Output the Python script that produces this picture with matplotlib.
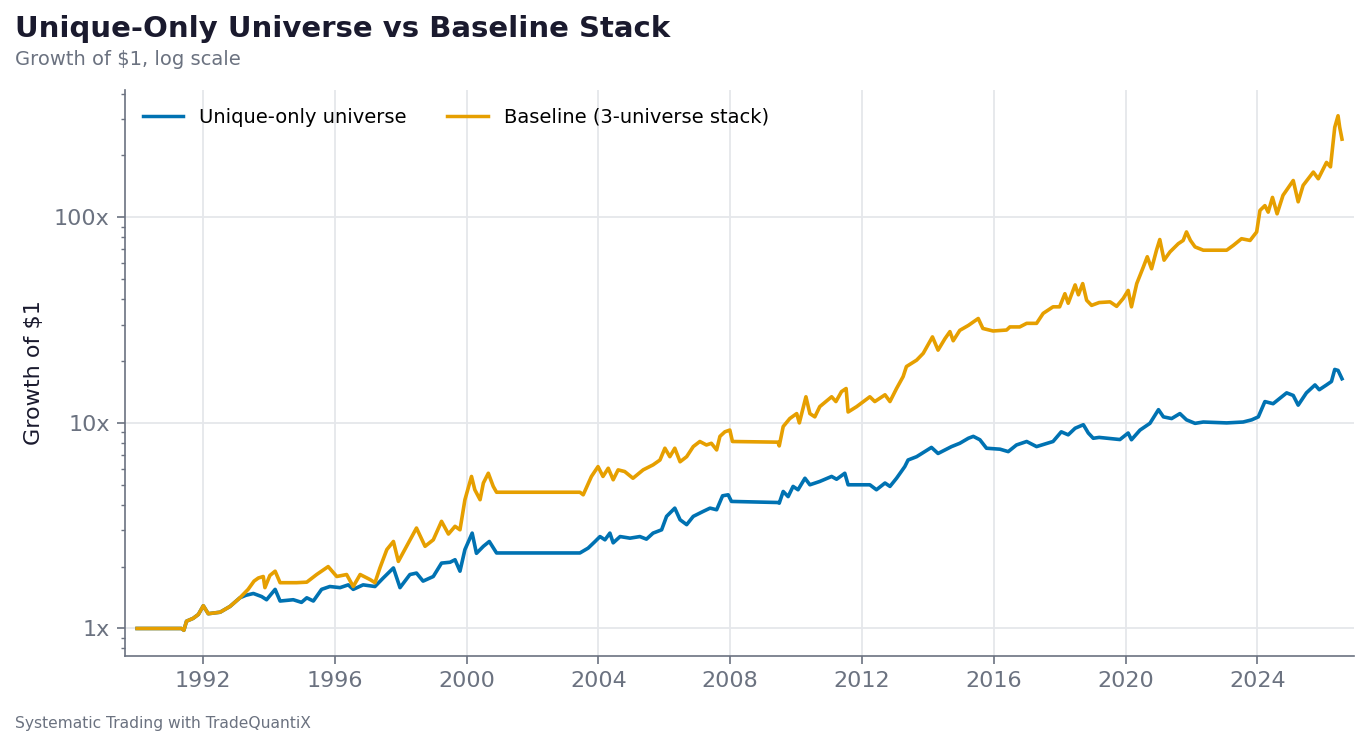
import matplotlib
matplotlib.use("Agg")
import matplotlib.pyplot as plt
from matplotlib.ticker import FuncFormatter, MultipleLocator, NullFormatter, LogLocator

# ---------------- data ----------------
base_years = [1990.0, 1991.35, 1991.42, 1991.5, 1991.7, 1991.86, 1992.01, 1992.16, 1992.52, 1992.82,
              1993.12, 1993.37, 1993.55, 1993.68, 1993.83, 1993.88, 1994.03, 1994.19, 1994.34, 1994.84,
              1995.15, 1995.45, 1995.8, 1996.06, 1996.36, 1996.56, 1996.77, 1997.07, 1997.22, 1997.37,
              1997.58, 1997.78, 1997.93, 1998.18, 1998.48, 1998.74, 1998.99, 1999.24, 1999.45, 1999.65,
              1999.8, 1999.95, 2000.15, 2000.25, 2000.41, 2000.51, 2000.66, 2000.81, 2000.91, 2003.44,
              2003.54, 2003.79, 2003.99, 2004.14, 2004.3, 2004.45, 2004.6, 2004.8, 2005.05, 2005.36,
              2005.66, 2005.87, 2006.02, 2006.17, 2006.32, 2006.48, 2006.68, 2006.88, 2007.08, 2007.28,
              2007.43, 2007.59, 2007.69, 2007.84, 2007.99, 2008.07, 2009.45, 2009.49, 2009.61, 2009.81,
              2010.02, 2010.1, 2010.3, 2010.42, 2010.57, 2010.72, 2011.08, 2011.21, 2011.38, 2011.52,
              2011.58, 2011.84, 2012.24, 2012.39, 2012.7, 2012.85, 2013.05, 2013.25, 2013.35, 2013.51,
              2013.66, 2013.86, 2014.14, 2014.31, 2014.52, 2014.67, 2014.77, 2014.97, 2015.23, 2015.53,
              2015.67, 2015.98, 2016.39, 2016.49, 2016.79, 2017.0, 2017.3, 2017.5, 2017.8, 2018.0,
              2018.16, 2018.26, 2018.47, 2018.57, 2018.7, 2018.82, 2018.97, 2019.2, 2019.53, 2019.73,
              2019.93, 2020.08, 2020.18, 2020.34, 2020.54, 2020.66, 2020.79, 2020.94, 2021.04, 2021.17,
              2021.35, 2021.6, 2021.75, 2021.85, 2021.97, 2022.11, 2022.36, 2023.07, 2023.27, 2023.52,
              2023.78, 2023.98, 2024.08, 2024.23, 2024.33, 2024.46, 2024.6, 2024.78, 2024.99, 2025.09,
              2025.24, 2025.39, 2025.7, 2025.85, 2026.1, 2026.22, 2026.35, 2026.45, 2026.5, 2026.57]
base_vals = [1.0, 1.0, 0.98, 1.085, 1.12, 1.17, 1.29, 1.18, 1.2, 1.28,
             1.41, 1.55, 1.70, 1.76, 1.79, 1.58, 1.81, 1.90, 1.67, 1.67,
             1.68, 1.83, 2.0, 1.79, 1.83, 1.60, 1.83, 1.73, 1.67, 1.97,
             2.42, 2.65, 2.12, 2.51, 3.08, 2.51, 2.70, 3.32, 2.88, 3.14,
             3.02, 4.23, 5.49, 4.73, 4.23, 5.10, 5.69, 4.91, 4.6, 4.6,
             4.47, 5.49, 6.13, 5.49, 6.02, 5.29, 5.91, 5.8, 5.38, 5.91,
             6.25, 6.6, 7.53, 6.85, 7.53, 6.47, 6.85, 7.67, 8.12, 7.81,
             7.96, 7.39, 8.6, 9.05, 9.23, 8.12, 8.06, 7.73, 9.6, 10.5,
             11.1, 10.0, 13.4, 11.1, 10.7, 12.0, 13.4, 12.7, 14.2, 14.7,
             11.3, 12.0, 13.4, 12.7, 13.7, 12.7, 14.7, 16.8, 18.8, 19.5,
             20.2, 21.8, 26.2, 22.6, 25.7, 27.8, 25.1, 28.2, 29.8, 32.2,
             28.8, 28.0, 28.3, 29.3, 29.3, 30.5, 30.5, 34.1, 36.7, 36.7,
             42.5, 38.2, 46.9, 42.0, 47.6, 39.5, 37.3, 38.5, 38.8, 36.9,
             40.3, 44.1, 36.7, 47.6, 57.3, 64.3, 56.2, 69.2, 78.0, 61.9,
             67.9, 74.4, 77.2, 84.9, 77.2, 71.8, 69.2, 69.2, 73.0, 78.7,
             77.2, 84.9, 108, 114, 106, 125, 104, 128, 143, 151,
             119, 143, 166, 154, 185, 176, 274, 312, 274, 240]

unique_years = [1990.0, 1991.35, 1991.42, 1991.5, 1991.7, 1991.86, 1992.01, 1992.16, 1992.52, 1992.82,
                1993.12, 1993.3, 1993.53, 1993.78, 1993.93, 1994.19, 1994.34, 1994.74, 1994.99, 1995.15,
                1995.35, 1995.6, 1995.85, 1996.16, 1996.41, 1996.56, 1996.86, 1997.22, 1997.47, 1997.78,
                1997.98, 1998.28, 1998.48, 1998.68, 1998.99, 1999.24, 1999.5, 1999.65, 1999.8, 1999.95,
                2000.17, 2000.3, 2000.51, 2000.69, 2000.91, 2003.44, 2003.69, 2003.9, 2004.05, 2004.2,
                2004.35, 2004.45, 2004.66, 2004.96, 2005.26, 2005.46, 2005.66, 2005.92, 2006.07, 2006.32,
                2006.48, 2006.68, 2006.88, 2007.18, 2007.39, 2007.59, 2007.77, 2007.94, 2008.04, 2009.45,
                2009.49, 2009.61, 2009.76, 2009.91, 2010.06, 2010.27, 2010.42, 2010.72, 2011.08, 2011.23,
                2011.48, 2011.58, 2011.94, 2012.24, 2012.44, 2012.7, 2012.85, 2013.05, 2013.3, 2013.4,
                2013.66, 2014.11, 2014.31, 2014.52, 2014.72, 2014.97, 2015.23, 2015.38, 2015.58, 2015.78,
                2016.19, 2016.44, 2016.69, 2017.0, 2017.3, 2017.8, 2018.05, 2018.26, 2018.47, 2018.72,
                2018.87, 2019.02, 2019.2, 2019.83, 2020.08, 2020.18, 2020.44, 2020.74, 2021.0, 2021.15,
                2021.4, 2021.65, 2021.85, 2022.11, 2022.36, 2023.07, 2023.57, 2023.83, 2024.03, 2024.23,
                2024.48, 2024.69, 2024.89, 2025.09, 2025.24, 2025.49, 2025.75, 2025.88, 2026.1, 2026.25,
                2026.35, 2026.45, 2026.57]
unique_vals = [1.0, 1.0, 0.98, 1.085, 1.12, 1.17, 1.29, 1.18, 1.2, 1.28,
               1.41, 1.45, 1.48, 1.43, 1.38, 1.55, 1.36, 1.38, 1.34, 1.41,
               1.36, 1.55, 1.60, 1.58, 1.63, 1.55, 1.63, 1.60, 1.76, 1.97,
               1.58, 1.83, 1.86, 1.70, 1.79, 2.08, 2.10, 2.16, 1.90, 2.42,
               2.91, 2.32, 2.51, 2.65, 2.33, 2.33, 2.46, 2.65, 2.8, 2.70,
               2.91, 2.61, 2.80, 2.75, 2.80, 2.72, 2.91, 3.02, 3.51, 3.85,
               3.38, 3.2, 3.51, 3.71, 3.85, 3.78, 4.42, 4.47, 4.15, 4.10,
               4.07, 4.64, 4.38, 4.91, 4.73, 5.38, 5.0, 5.19, 5.49, 5.32,
               5.69, 5.0, 5.0, 5.0, 4.73, 5.1, 4.91, 5.38, 6.13, 6.6,
               6.85, 7.6, 7.1, 7.39, 7.67, 7.96, 8.42, 8.6, 8.28, 7.53,
               7.45, 7.25, 7.81, 8.12, 7.67, 8.12, 9.05, 8.75, 9.42, 9.8,
               8.93, 8.42, 8.5, 8.3, 8.93, 8.28, 9.23, 9.95, 11.6, 10.7,
               10.5, 11.1, 10.35, 9.95, 10.1, 10.0, 10.1, 10.35, 10.7, 12.7,
               12.4, 13.2, 14.0, 13.6, 12.2, 14.0, 15.3, 14.5, 15.3, 15.9,
               18.2, 18.0, 16.4]

series_labels = ["Unique-only universe", "Baseline (3-universe stack)"]
title_text = "Unique-Only Universe vs Baseline Stack"
subtitle_text = "Growth of $1, log scale"
ylabel_text = "Growth of $1"
footer_text = "Systematic Trading with TradeQuantiX"

# ---------------- styling ----------------
BLUE = "#0072B2"
ORANGE = "#E69F00"
GRAY = "#6b7280"
GRID = "#e5e7eb"
DARK = "#1a1a2e"

plt.rcParams['font.family'] = ['DejaVu Sans']

fig = plt.figure(figsize=(13.68, 7.47), dpi=100)
ax = fig.add_axes([0.0914, 0.1218, 0.8984, 0.7577])

ax.plot(unique_years, unique_vals, color=BLUE, lw=2.6, label=series_labels[0], zorder=3,
        solid_joinstyle="round")
ax.plot(base_years, base_vals, color=ORANGE, lw=2.6, label=series_labels[1], zorder=4,
        solid_joinstyle="round")

ax.set_yscale("log")
ax.margins(x=0.01, y=0.05)

ax.yaxis.set_major_locator(LogLocator(base=10))
ax.yaxis.set_major_formatter(FuncFormatter(lambda v, p: f"{v:g}x"))
ax.yaxis.set_minor_formatter(NullFormatter())
ax.xaxis.set_major_locator(MultipleLocator(4))
ax.xaxis.set_major_formatter(FuncFormatter(lambda v, p: f"{int(round(v))}"))

ax.grid(True, which="major", color=GRID, lw=1.3, zorder=0)
ax.set_axisbelow(True)
for s in ["top", "right"]:
    ax.spines[s].set_visible(False)
for s in ["left", "bottom"]:
    ax.spines[s].set_color(GRAY)
    ax.spines[s].set_linewidth(1.2)

ax.tick_params(axis="both", which="major", colors=GRAY, labelsize=16, length=6, width=1.2, pad=5)
ax.tick_params(axis="y", which="minor", colors=GRAY, length=3, width=1)
ax.tick_params(axis="x", which="minor", length=0)

ax.set_ylabel(ylabel_text, fontsize=16, color=DARK, labelpad=7)

leg = ax.legend(loc="upper left", ncol=2, frameon=False, fontsize=14,
                handlelength=2.1, columnspacing=2.1, borderaxespad=0.5,
                bbox_to_anchor=(0.0, 1.0))
for line in leg.get_lines():
    line.set_linewidth(2.5)

fig.text(0.011, 0.961, title_text, fontsize=21, fontweight="bold", color=DARK, va="center", ha="left")
fig.text(0.011, 0.921, subtitle_text, fontsize=14, color=GRAY, va="center", ha="left")
fig.text(0.011, 0.031, footer_text, fontsize=11.2, color=GRAY, va="center", ha="left")

fig.savefig("out.png", dpi=100)
